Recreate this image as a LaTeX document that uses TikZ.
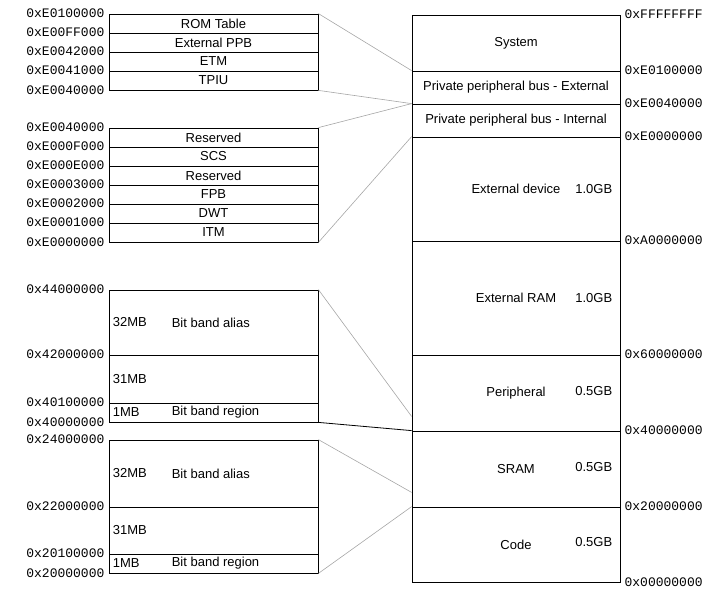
\documentclass[tikz,border=0pt]{standalone}
\usepackage{fontspec}
\setmainfont{Liberation Sans}
\newfontfamily\addrfont{Liberation Mono}
\begin{document}
\begin{tikzpicture}[x=1pt,y=-1pt,
  cell/.style={draw,rectangle,line width=0.8pt,minimum width=209pt,inner sep=0pt,font=\fontsize{13}{15}\selectfont},
  region/.style={draw,rectangle,line width=0.8pt,minimum width=208pt,inner sep=0pt,font=\fontsize{13}{15}\selectfont},
  addrl/.style={anchor=east,inner sep=0pt,font=\addrfont\fontsize{13}{15}\selectfont},
  addrr/.style={anchor=west,inner sep=0pt,font=\addrfont\fontsize{13}{15}\selectfont},
  txt/.style={inner sep=0pt,font=\fontsize{13}{15}\selectfont},
  link/.style={gray!70,line width=0.6pt}]
\useasboundingbox (0,0) rectangle (722,605);

% PPB external
\foreach \name/\label/\y in {rom/ROM Table/23.5,extppb/External PPB/42.5,etm/ETM/61.5,tpiu/TPIU/80.5} {
  \node[cell,minimum height=19pt] (\name) at (213.5,\y) {\label};
}
\foreach \anc/\label [count=\i] in {rom.north west/0xE0100000,extppb.north west/0xE00FF000,etm.north west/0xE0042000,tpiu.north west/0xE0041000,tpiu.south west/0xE0040000} {
  \node[addrl] (ea\i) at ([xshift=-4pt]\anc) {\label};
}

% PPB internal
\foreach \name/\label/\y in {resa/Reserved/137.5,scs/SCS/156.5,resb/Reserved/175.5,fpb/FPB/194.5,dwt/DWT/213.5,itm/ITM/232.5} {
  \node[cell,minimum height=19pt] (\name) at (213.5,\y) {\label};
}
\foreach \anc/\label [count=\i] in {resa.north west/0xE0040000,scs.north west/0xE000F000,resb.north west/0xE000E000,fpb.north west/0xE0003000,dwt.north west/0xE0002000,itm.north west/0xE0001000,itm.south west/0xE0000000} {
  \node[addrl] (ia\i) at ([xshift=-4pt]\anc) {\label};
}

% Peripheral bit band
\node[cell,minimum height=65pt] (aliasp) at (213.5,322.5) {};
\node[cell,minimum height=48pt] (midp) at (213.5,379) {};
\node[cell,minimum height=19pt] (bandp) at (213.5,412.5) {};
\node[txt,anchor=west] (aliaspsz) at ([xshift=4pt]aliasp.west) {32MB};
\node[txt,anchor=west] (aliaspnm) at ([xshift=63pt]aliasp.west) {Bit band alias};
\node[txt,anchor=west] (midpsz) at ([xshift=4pt]midp.west) {31MB};
\node[txt,anchor=west] (bandpsz) at ([xshift=4pt]bandp.west) {1MB};
\node[txt,anchor=west] (bandpnm) at ([xshift=63pt]bandp.west) {Bit band region};
\foreach \anc/\label [count=\i] in {aliasp.north west/0x44000000,midp.north west/0x42000000,bandp.north west/0x40100000,bandp.south west/0x40000000} {
  \node[addrl] (pa\i) at ([xshift=-4pt]\anc) {\label};
}

% SRAM bit band
\node[cell,minimum height=67pt] (aliass) at (213.5,473.5) {};
\node[cell,minimum height=47pt] (mids) at (213.5,530.5) {};
\node[cell,minimum height=19pt] (bands) at (213.5,563.5) {};
\node[txt,anchor=west] (aliasssz) at ([xshift=4pt]aliass.west) {32MB};
\node[txt,anchor=west] (aliassnm) at ([xshift=63pt]aliass.west) {Bit band alias};
\node[txt,anchor=west] (midssz) at ([xshift=4pt]mids.west) {31MB};
\node[txt,anchor=west] (bandssz) at ([xshift=4pt]bands.west) {1MB};
\node[txt,anchor=west] (bandsnm) at ([xshift=63pt]bands.west) {Bit band region};
\foreach \anc/\label [count=\i] in {aliass.north west/0x24000000,mids.north west/0x22000000,bands.north west/0x20100000,bands.south west/0x20000000} {
  \node[addrl] (sa\i) at ([xshift=-4pt]\anc) {\label};
}

% Memory map
\node[region,minimum height=56pt] (system) at (516,43) {System};
\node[region,minimum height=33pt] (ppbext) at (516,87.5) {Private peripheral bus - External};
\node[region,minimum height=33pt] (ppbint) at (516,120.5) {Private peripheral bus - Internal};
\node[region,minimum height=104pt] (extdev) at (516,189) {External device};
\node[region,minimum height=114pt] (extram) at (516,298) {External RAM};
\node[region,minimum height=76pt] (periph) at (516,393) {Peripheral};
\node[region,minimum height=76pt] (sram) at (516,469) {SRAM};
\node[region,minimum height=75pt] (code) at (516,544.5) {Code};
\node[txt,anchor=east] (extdevsz) at ([xshift=-8pt]extdev.east) {1.0GB};
\node[txt,anchor=east] (extramsz) at ([xshift=-8pt]extram.east) {1.0GB};
\node[txt,anchor=east] (periphsz) at ([xshift=-8pt,yshift=2pt]periph.east) {0.5GB};
\node[txt,anchor=east] (sramsz) at ([xshift=-8pt,yshift=2pt]sram.east) {0.5GB};
\node[txt,anchor=east] (codesz) at ([xshift=-8pt,yshift=2pt]code.east) {0.5GB};
\foreach \anc/\label [count=\i] in {system.north east/0xFFFFFFFF,ppbext.north east/0xE0100000,ppbint.north east/0xE0040000,extdev.north east/0xE0000000,extram.north east/0xA0000000,periph.north east/0x60000000,sram.north east/0x40000000,code.north east/0x20000000,code.south east/0x00000000} {
  \node[addrr] (ma\i) at ([xshift=4pt]\anc) {\label};
}

% Zoom lines
\coordinate (periphin) at ([yshift=15pt]periph.south west);
\coordinate (sramin) at ([yshift=15pt]sram.south west);
\draw[link] (rom.north east) -- (ppbext.north west);
\draw[link] (tpiu.south east) -- (ppbint.north west);
\draw[link] (resa.north east) -- (ppbint.north west);
\draw[link] (itm.south east) -- (extdev.north west);
\draw[link] (aliasp.north east) -- (periphin);
\draw[line width=0.8pt] (bandp.south east) -- (sram.north west);
\draw[link] (aliass.north east) -- (sramin);
\draw[link] (bands.south east) -- (code.north west);
\end{tikzpicture}
\end{document}
